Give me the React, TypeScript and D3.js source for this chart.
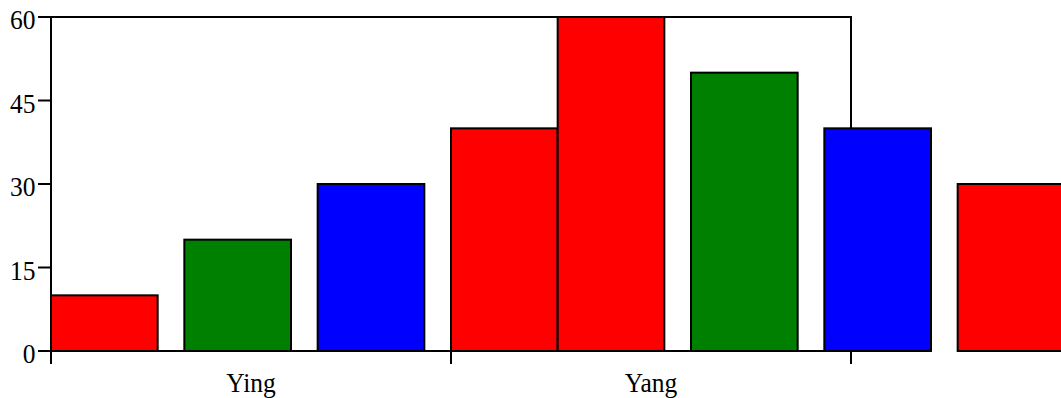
import React from "react";
import * as d3 from "d3";

const categories = ["Ying", "Yang"];
const barValues = [10, 20, 30, 40, 60, 50, 40, 30];
const barColors = ["red", "green", "blue", "red", "red", "green", "blue", "red"];
// bar left positions in category-slot units (3 slots per category)
const barSlots = [0, 1, 2, 3, 3.8, 4.8, 5.8, 6.8];
const yTicks = [0, 15, 30, 45, 60];

const W = 1061;
const H = 398;
const M = { left: 51, right: 210, top: 17, bottom: 47 };
const FS = 25.5;
const SY = 1.1;

export default function App() {
  const x = d3.scaleLinear().domain([0, 6]).range([M.left, W - M.right]);
  const y = d3.scaleLinear().domain([0, 60]).range([H - M.bottom, M.top]);
  const band = d3
    .scaleBand<string>()
    .domain(categories)
    .range([M.left, W - M.right])
    .padding(0);
  const barW = x(0.8) - x(0);
  const x0 = M.left;
  const x1 = W - M.right;
  const y0 = y(0);
  const yTop = y(60);
  const boundaries = [x0, ...categories.map((c) => (band(c) as number) + band.bandwidth())];
  return (
    <svg
      width={W}
      height={H}
      style={{ position: "absolute", left: 0, top: 0, background: "#fff" }}
      fontFamily="'Liberation Serif', 'Times New Roman', serif"
    >
      <rect x={x0} y={yTop} width={x1 - x0} height={y0 - yTop} fill="none" stroke="#000" strokeWidth={2} />
      {yTicks.map((t) => (
        <g key={t}>
          <line x1={x0 - 13} x2={x0} y1={y(t)} y2={y(t)} stroke="#000" strokeWidth={2} />
          <text
            transform={`translate(${x0 - 15.5},${y(t) + 12}) scale(1,${SY})`}
            textAnchor="end"
            fontSize={FS}
          >
            {t}
          </text>
        </g>
      ))}
      {boundaries.map((b, i) => (
        <line key={i} x1={b} x2={b} y1={y0} y2={y0 + 13} stroke="#000" strokeWidth={2} />
      ))}
      {categories.map((c) => (
        <text
          key={c}
          transform={`translate(${(band(c) as number) + band.bandwidth() / 2},${y0 + 40.5}) scale(1,${SY})`}
          textAnchor="middle"
          fontSize={FS}
        >
          {c}
        </text>
      ))}
      {barValues.map((v, i) => (
        <rect
          key={i}
          x={x(barSlots[i])}
          y={y(v)}
          width={barW}
          height={y0 - y(v)}
          fill={barColors[i]}
          stroke="#000"
          strokeWidth={2}
        />
      ))}
    </svg>
  );
}
